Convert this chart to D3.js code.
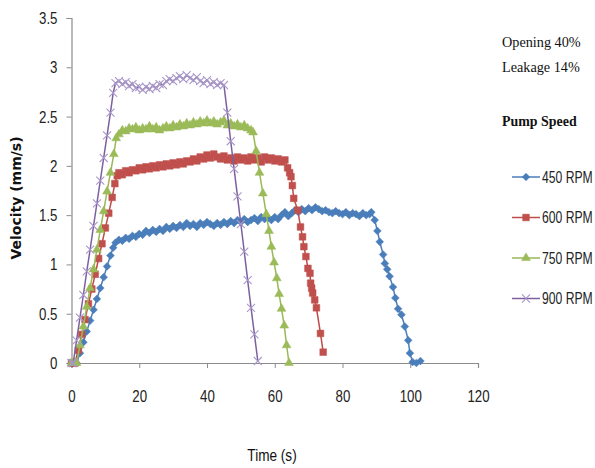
<!DOCTYPE html>
<html><head><meta charset="utf-8">
<script src="https://cdn.jsdelivr.net/npm/d3@7"></script>
<style>
body{margin:0;background:#fff;}
svg{display:block;}
</style></head>
<body>
<svg id="chart" width="595" height="468"></svg>
<script>
const seriesNames = ["450 RPM","600 RPM","750 RPM","900 RPM"];
const xTicks = [0,20,40,60,80,100,120];
const yTicks = [0,0.5,1,1.5,2,2.5,3,3.5];
const noteLines = ["Opening 40%","Leakage 14%"];
const legendTitle = "Pump Speed";

const s450 = [[0,0],[0.5,0],[1.5,0],[2.5,0.10],[3.5,0.21],[4.5,0.32],[5.5,0.43],[6.5,0.54],[7.5,0.65],[8.5,0.76],[9.5,0.87],[10.5,0.98],[11.5,1.09],[12.3,1.17],[13,1.22],[14,1.25],[15,1.24],[16,1.27],[17,1.26],[18,1.29],[19,1.28],[20,1.31],[21,1.30],[22,1.34],[23,1.32],[24,1.35],[25,1.33],[26,1.36],[27,1.34],[28,1.38],[29,1.36],[30,1.39],[31,1.37],[32,1.40],[33,1.38],[34,1.42],[35,1.39],[36,1.41],[37,1.38],[38,1.42],[39,1.40],[40,1.43],[41,1.41],[42,1.39],[43,1.42],[44,1.40],[45,1.43],[46,1.41],[47,1.44],[48,1.42],[49,1.45],[50,1.43],[51,1.46],[52,1.43],[53,1.45],[54,1.47],[55,1.44],[56,1.48],[57,1.46],[58,1.47],[59,1.45],[60,1.48],[61,1.46],[62,1.50],[63,1.53],[64,1.49],[65,1.52],[66,1.55],[67,1.53],[68,1.56],[69,1.54],[70,1.57],[71,1.55],[72,1.58],[73,1.56],[74,1.54],[75,1.55],[76,1.53],[77,1.52],[78,1.54],[79,1.52],[80,1.51],[81,1.53],[82,1.50],[83,1.52],[84,1.51],[85,1.49],[86,1.52],[87,1.50],[88,1.51],[88.5,1.53],[89.5,1.45],[90.3,1.34],[91,1.23],[92,1.10],[92.5,1.01],[93.2,0.95],[93.9,0.88],[94.9,0.77],[95.6,0.66],[96.4,0.55],[97.4,0.49],[98.4,0.37],[99.4,0.23],[99.9,0.10],[100.7,0.01],[101.8,0],[103,0.02]];

const s600 = [[0,0],[0.5,0],[1,0],[2,0.13],[3,0.29],[4,0.44],[5,0.60],[6,0.75],[7,0.90],[8,1.06],[9,1.21],[10,1.37],[11,1.52],[12,1.68],[12.8,1.82],[13.5,1.90],[14,1.93],[15,1.91],[16,1.95],[17,1.93],[18,1.96],[19,1.95],[20,1.98],[21,1.96],[22,1.99],[23,1.97],[24,2.00],[25,1.98],[26,2.01],[27,1.99],[28,2.02],[29,2.00],[30,2.03],[31,2.01],[32,2.04],[33,2.02],[34,2.05],[35,2.04],[36,2.07],[37,2.05],[38,2.09],[39,2.07],[40,2.11],[41,2.08],[42,2.12],[43,2.09],[44,2.07],[45,2.10],[46,2.06],[47,2.08],[48,2.05],[49,2.09],[50,2.06],[51,2.08],[52,2.05],[53,2.09],[54,2.06],[55,2.08],[56,2.04],[57,2.09],[58,2.06],[59,2.08],[60,2.05],[61,2.07],[62,2.04],[63,2.06],[63.8,1.98],[64.4,1.93],[64.8,1.89],[65.2,1.80],[65.6,1.67],[66.8,1.55],[67.6,1.38],[68.2,1.28],[68.6,1.18],[69.2,1.08],[69.8,0.96],[70.4,0.91],[70.6,0.81],[70.9,0.76],[71.2,0.71],[71.8,0.64],[72.3,0.56],[73.5,0.30],[74.3,0.11]];

const s750 = [[0,0],[0.5,0],[1,0],[1.5,0],[2.5,0.18],[3.5,0.37],[4.5,0.57],[5.5,0.76],[6.5,0.95],[7.5,1.15],[8.5,1.35],[9.5,1.54],[10.5,1.74],[11.5,1.93],[12.5,2.12],[13.2,2.28],[14,2.32],[15,2.36],[16,2.35],[17,2.38],[18,2.37],[19,2.39],[20,2.36],[21,2.38],[22,2.37],[23,2.40],[24,2.37],[25,2.39],[26,2.36],[27,2.38],[28,2.40],[29,2.38],[30,2.41],[31,2.39],[32,2.42],[33,2.40],[34,2.43],[35,2.41],[36,2.44],[37,2.42],[38,2.45],[39,2.43],[40,2.46],[41,2.43],[42,2.45],[43,2.42],[44,2.44],[45,2.46],[46,2.41],[47,2.43],[48,2.40],[49,2.42],[50,2.39],[51,2.41],[52,2.38],[53,2.36],[53.6,2.34],[54.5,2.15],[55.5,1.93],[56.5,1.72],[57.5,1.51],[58.3,1.34],[59,1.18],[59.8,1.02],[60.6,0.86],[61.3,0.70],[62,0.55],[62.8,0.38],[63.5,0.18],[64.2,0]];

const s900 = [[0,0],[0.5,0],[1.5,0.23],[2.5,0.46],[3.5,0.69],[4.5,0.93],[5.5,1.15],[6.5,1.39],[7.5,1.62],[8.5,1.85],[9.5,2.08],[10.5,2.31],[11.5,2.54],[12.3,2.74],[13,2.84],[14,2.86],[15,2.83],[16,2.85],[17,2.81],[18,2.83],[19,2.79],[20,2.80],[21,2.77],[22,2.80],[23,2.78],[24,2.81],[25,2.79],[26,2.83],[27,2.82],[28,2.86],[29,2.88],[30,2.86],[31,2.89],[32,2.91],[33,2.88],[34,2.92],[35,2.89],[36,2.87],[37,2.90],[38,2.86],[39,2.84],[40,2.87],[41,2.83],[42,2.85],[43,2.82],[44,2.84],[45,2.82],[46,2.54],[47,2.25],[48,1.97],[49,1.69],[50,1.41],[51,1.13],[52,0.84],[53,0.56],[54,0.29],[55,0.02]];

const seriesData = [s450, s600, s750, s900];
const lineColors = ["#4a7ebb","#be4b48","#98b954","#7d60a0"];
const markColors = ["#4a7ebb","#c0504d","#9bbb59","#a897c8"];

const svg = d3.select("#chart");
const x = d3.scaleLinear().domain([0,120]).range([71.5,478]);
const y = d3.scaleLinear().domain([0,3.5]).range([363,18]);
const numFont = "'Liberation Sans',Arial,sans-serif";

function condense(sel, f){
  sel.each(function(){
    const w = this.getComputedTextLength();
    d3.select(this).attr("textLength", w*f).attr("lengthAdjust","spacingAndGlyphs");
  });
}

// axes
const yAxis = svg.append("g").attr("transform","translate(71.5,0)")
  .call(d3.axisLeft(y).tickValues(yTicks).tickFormat(d=>String(d)).tickSize(5).tickPadding(9));
const xAxis = svg.append("g").attr("transform","translate(0,363)")
  .call(d3.axisBottom(x).tickValues(xTicks).tickFormat(d=>String(d)).tickSize(5).tickPadding(22));
[yAxis,xAxis].forEach(g=>{
  g.select(".domain").attr("stroke","#8c8c8c").attr("stroke-width",1.2);
  g.selectAll(".tick line").attr("stroke","#8c8c8c");
  g.selectAll("text").attr("fill","#222").style("font-family",numFont).style("font-size","17px");
  condense(g.selectAll("text"), 0.78);
});

// lines + markers
const line = d3.line().x(d=>x(d[0])).y(d=>y(d[1]));
const symTypes = [d3.symbolSquare, d3.symbolSquare, d3.symbolTriangle, d3.symbolTimes];
const symSizes = [30, 45, 34, 44];
const symRot = [45, 0, 0, 0];
function drawMarker(g, i, cx, cy){
  const p = d3.symbol().type(symTypes[i]).size(symSizes[i])();
  const m = g.append("path").attr("d",p)
    .attr("transform",`translate(${cx},${cy}) rotate(${symRot[i]})`);
  if(i===3){ m.attr("fill","none").attr("stroke",markColors[i]).attr("stroke-width",1.1); }
  else { m.attr("fill",markColors[i]).attr("stroke",markColors[i]).attr("stroke-width",0.5); }
}
seriesData.forEach((data,i)=>{
  const g = svg.append("g");
  g.append("path").datum(data).attr("d",line).attr("fill","none")
    .attr("stroke",lineColors[i]).attr("stroke-width",1.5);
  data.forEach(d=>drawMarker(g,i,x(d[0]),y(d[1])));
});

// axis titles
svg.append("text").attr("transform","translate(21,198) rotate(-90)")
  .attr("text-anchor","middle").style("font-family","'DejaVu Sans',sans-serif")
  .style("font-weight","bold").style("font-size","14px").attr("fill","#111")
  .text("Velocity (mm/s)");
svg.append("text").attr("transform","translate(272,461) scale(0.8,1)").attr("text-anchor","middle")
  .style("font-family",numFont).style("font-size","17px").attr("fill","#111")
  .text("Time (s)");

// notes and legend
const serif = "'Liberation Serif','Times New Roman',serif";
noteLines.forEach((t,k)=>{
  svg.append("text").attr("transform",`translate(502,${47+k*25}) scale(0.95,1)`).style("font-family",serif)
    .style("font-size","15px").attr("fill","#111").text(t);
});
svg.append("text").attr("transform","translate(502,126) scale(0.93,1)").style("font-family",serif)
  .style("font-size","15px").style("font-weight","bold").attr("fill","#111").text(legendTitle);
seriesNames.forEach((name,i)=>{
  const cy = 177 + i*40.5;
  const g = svg.append("g");
  g.append("line").attr("x1",512).attr("x2",540).attr("y1",cy).attr("y2",cy)
    .attr("stroke",lineColors[i]).attr("stroke-width",1.5);
  drawMarker(g,i,526,cy);
  g.append("text").attr("transform",`translate(542,${cy+5.5}) scale(0.76,1)`).style("font-family",numFont)
    .style("font-size","16px").attr("fill","#222").text(name);
});
</script>
</body></html>
